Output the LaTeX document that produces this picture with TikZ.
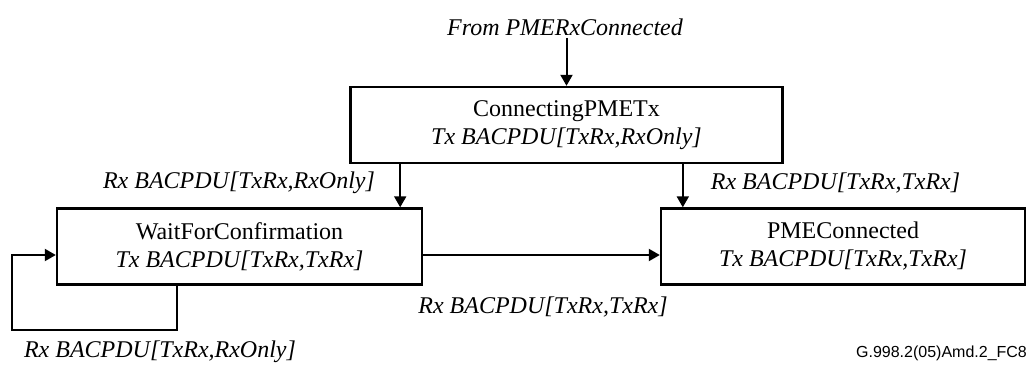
\documentclass[tikz,border=0pt]{standalone}
\usepackage{fontspec}
\setmainfont{Liberation Serif}
\setsansfont{Liberation Sans}
\usepackage{tikz}
\usetikzlibrary{arrows.meta, positioning, calc}

\tikzset{
  state/.style={draw, line width=1.2pt, align=center, inner sep=0pt,
    minimum height=38pt, font=\fontsize{12}{14}\selectfont},
  arr/.style={line width=1pt, -{Triangle[length=5.5pt,width=6pt]}},
  lbl/.style={font=\fontsize{12}{14}\selectfont\itshape, inner sep=1pt}
}

\begin{document}
\begin{tikzpicture}[x=25pt,y=25pt]
\useasboundingbox (0,0) rectangle (20.54,7.3);

% States
\node[state, minimum width=216pt] (conn) at (11.33,4.8)
  {ConnectingPMETx\\ \textit{Tx BACPDU[TxRx,RxOnly]}};
\node[state, minimum width=182.5pt] (wait) at (4.79,2.37)
  {WaitForConfirmation\\ \textit{Tx BACPDU[TxRx,TxRx]}};
\node[state, minimum width=182pt] (pme) at (16.86,2.37)
  {PMEConnected\\ \textit{Tx BACPDU[TxRx,TxRx]}};

% Entry
\node[lbl] (from) at (11.3,6.76) {From PMERxConnected};
\draw[arr] (from.south -| conn.north) -- (conn.north);

% Transitions
\draw[arr] ([xshift=-11.5pt]wait.north east |- conn.south) -- ([xshift=-11.5pt]wait.north east);
\draw[arr] ([xshift=11.5pt]pme.north west |- conn.south) -- ([xshift=11.5pt]pme.north west);
\draw[arr] ([yshift=-4.25pt]wait.east) -- ([yshift=-4.25pt]pme.west);

% Self loop
\coordinate (loop) at (0.24,0.7);
\draw[arr] ([xshift=60.5pt]wait.south west) |- (loop) |- ([yshift=-4.25pt]wait.west);

% Labels
\node[lbl] (l1) at (4.78,3.64) {Rx BACPDU[TxRx,RxOnly]};
\node[lbl] (l2) at (16.71,3.64) {Rx BACPDU[TxRx,TxRx]};
\node[lbl] (l3) at (10.86,1.16) {Rx BACPDU[TxRx,TxRx]};
\node[lbl] (l4) at (3.2,0.26) {Rx BACPDU[TxRx,RxOnly]};

\node[font=\sffamily\fontsize{8}{9}\selectfont, inner sep=0pt] (fig) at (18.83,0.24) {G.998.2(05)Amd.2\_FC8};
\end{tikzpicture}
\end{document}
